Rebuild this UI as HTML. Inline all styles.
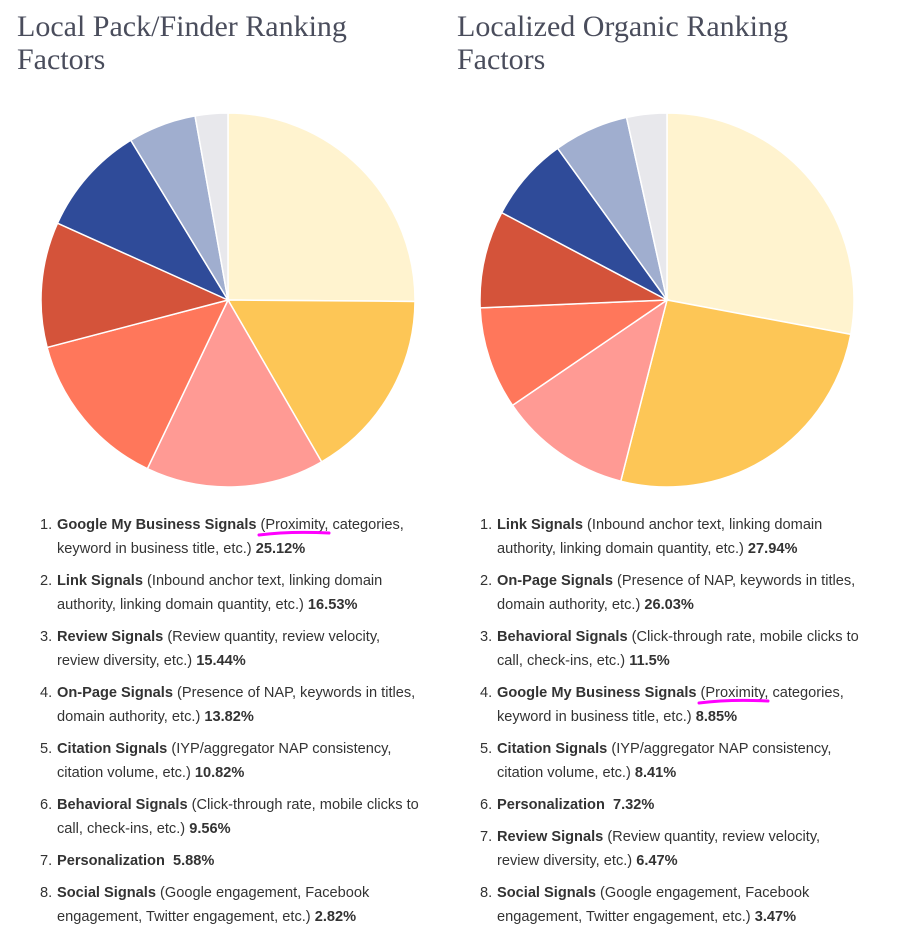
<!DOCTYPE html>
<html><head><meta charset="utf-8">
<style>
body{margin:0;width:906px;height:952px;background:#fff;position:relative;overflow:hidden;font-family:"Liberation Sans",sans-serif;}
.title{position:absolute;top:10px;font-family:"Liberation Serif",serif;font-size:30px;line-height:33px;color:#4a4d5c;font-weight:normal;margin:0;}
.list{position:absolute;top:513px;margin:0;padding:0;list-style:none;font-size:14.6px;line-height:24px;color:#333;}
.list li{position:relative;height:56px;padding-left:17px;white-space:nowrap;}
.list li .n{position:absolute;left:0;}
b{font-weight:bold;}
svg{position:absolute;left:0;top:0;}
</style></head><body>
<h1 class="title" style="left:17px">Local Pack/Finder Ranking<br>Factors</h1>
<h1 class="title" style="left:457px">Localized Organic Ranking<br>Factors</h1>
<svg id="pies" width="906" height="952"></svg>
<ol class="list" style="left:40px">
<li><span class="n">1.</span><b>Google My Business Signals</b> (Proximity, categories,<br>keyword in business title, etc.) <b>25.12%</b></li>
<li><span class="n">2.</span><b>Link Signals</b> (Inbound anchor text, linking domain<br>authority, linking domain quantity, etc.) <b>16.53%</b></li>
<li><span class="n">3.</span><b>Review Signals</b> (Review quantity, review velocity,<br>review diversity, etc.) <b>15.44%</b></li>
<li><span class="n">4.</span><b>On-Page Signals</b> (Presence of NAP, keywords in titles,<br>domain authority, etc.) <b>13.82%</b></li>
<li><span class="n">5.</span><b>Citation Signals</b> (IYP/aggregator NAP consistency,<br>citation volume, etc.) <b>10.82%</b></li>
<li><span class="n">6.</span><b>Behavioral Signals</b> (Click-through rate, mobile clicks to<br>call, check-ins, etc.) <b>9.56%</b></li>
<li style="height:32px"><span class="n">7.</span><b>Personalization</b> &nbsp;<b>5.88%</b></li>
<li><span class="n">8.</span><b>Social Signals</b> (Google engagement, Facebook<br>engagement, Twitter engagement, etc.) <b>2.82%</b></li>
</ol>
<ol class="list" style="left:480px">
<li><span class="n">1.</span><b>Link Signals</b> (Inbound anchor text, linking domain<br>authority, linking domain quantity, etc.) <b>27.94%</b></li>
<li><span class="n">2.</span><b>On-Page Signals</b> (Presence of NAP, keywords in titles,<br>domain authority, etc.) <b>26.03%</b></li>
<li><span class="n">3.</span><b>Behavioral Signals</b> (Click-through rate, mobile clicks to<br>call, check-ins, etc.) <b>11.5%</b></li>
<li><span class="n">4.</span><b>Google My Business Signals</b> (Proximity, categories,<br>keyword in business title, etc.) <b>8.85%</b></li>
<li><span class="n">5.</span><b>Citation Signals</b> (IYP/aggregator NAP consistency,<br>citation volume, etc.) <b>8.41%</b></li>
<li style="height:32px"><span class="n">6.</span><b>Personalization</b> &nbsp;<b>7.32%</b></li>
<li><span class="n">7.</span><b>Review Signals</b> (Review quantity, review velocity,<br>review diversity, etc.) <b>6.47%</b></li>
<li><span class="n">8.</span><b>Social Signals</b> (Google engagement, Facebook<br>engagement, Twitter engagement, etc.) <b>3.47%</b></li>
</ol>
<svg width="906" height="952" style="pointer-events:none">
<path d="M259 535 Q290 531 329 533" stroke="#f0f" stroke-width="3" fill="none" stroke-linecap="round"/>
<path d="M699 703 Q730 699 768 701" stroke="#f0f" stroke-width="3" fill="none" stroke-linecap="round"/>
</svg>
<script>
const colors = ["#fff3cf","#fdc656","#ff9a94","#ff775b","#d4533a","#2f4b99","#a0aecf","#e8e8ec"];
const leftValues = [25.12,16.53,15.44,13.82,10.82,9.56,5.88,2.82];
const rightValues = [27.94,26.03,11.5,8.85,8.41,7.32,6.47,3.47];
const svg = document.getElementById('pies');
const NS = "http://www.w3.org/2000/svg";
function drawPie(values, cx, cy, r, prefix){
  const total = values.reduce((a,b)=>a+b,0);
  let a0 = -Math.PI/2;
  values.forEach((v,i)=>{
    const a1 = a0 + v/total*2*Math.PI;
    const x0 = cx + r*Math.cos(a0), y0 = cy + r*Math.sin(a0);
    const x1 = cx + r*Math.cos(a1), y1 = cy + r*Math.sin(a1);
    const large = (a1-a0) > Math.PI ? 1 : 0;
    const p = document.createElementNS(NS,'path');
    p.setAttribute('d',`M${cx},${cy} L${x0},${y0} A${r},${r} 0 ${large} 1 ${x1},${y1} Z`);
    p.setAttribute('fill',colors[i]);
    p.setAttribute('stroke','#fff');
    p.setAttribute('stroke-width','1.5');
    
    
    svg.appendChild(p);
    a0 = a1;
  });
}
drawPie(leftValues, 228, 300, 187, 'left-pie');
drawPie(rightValues, 667, 300, 187, 'right-pie');
</script>
</body></html>
